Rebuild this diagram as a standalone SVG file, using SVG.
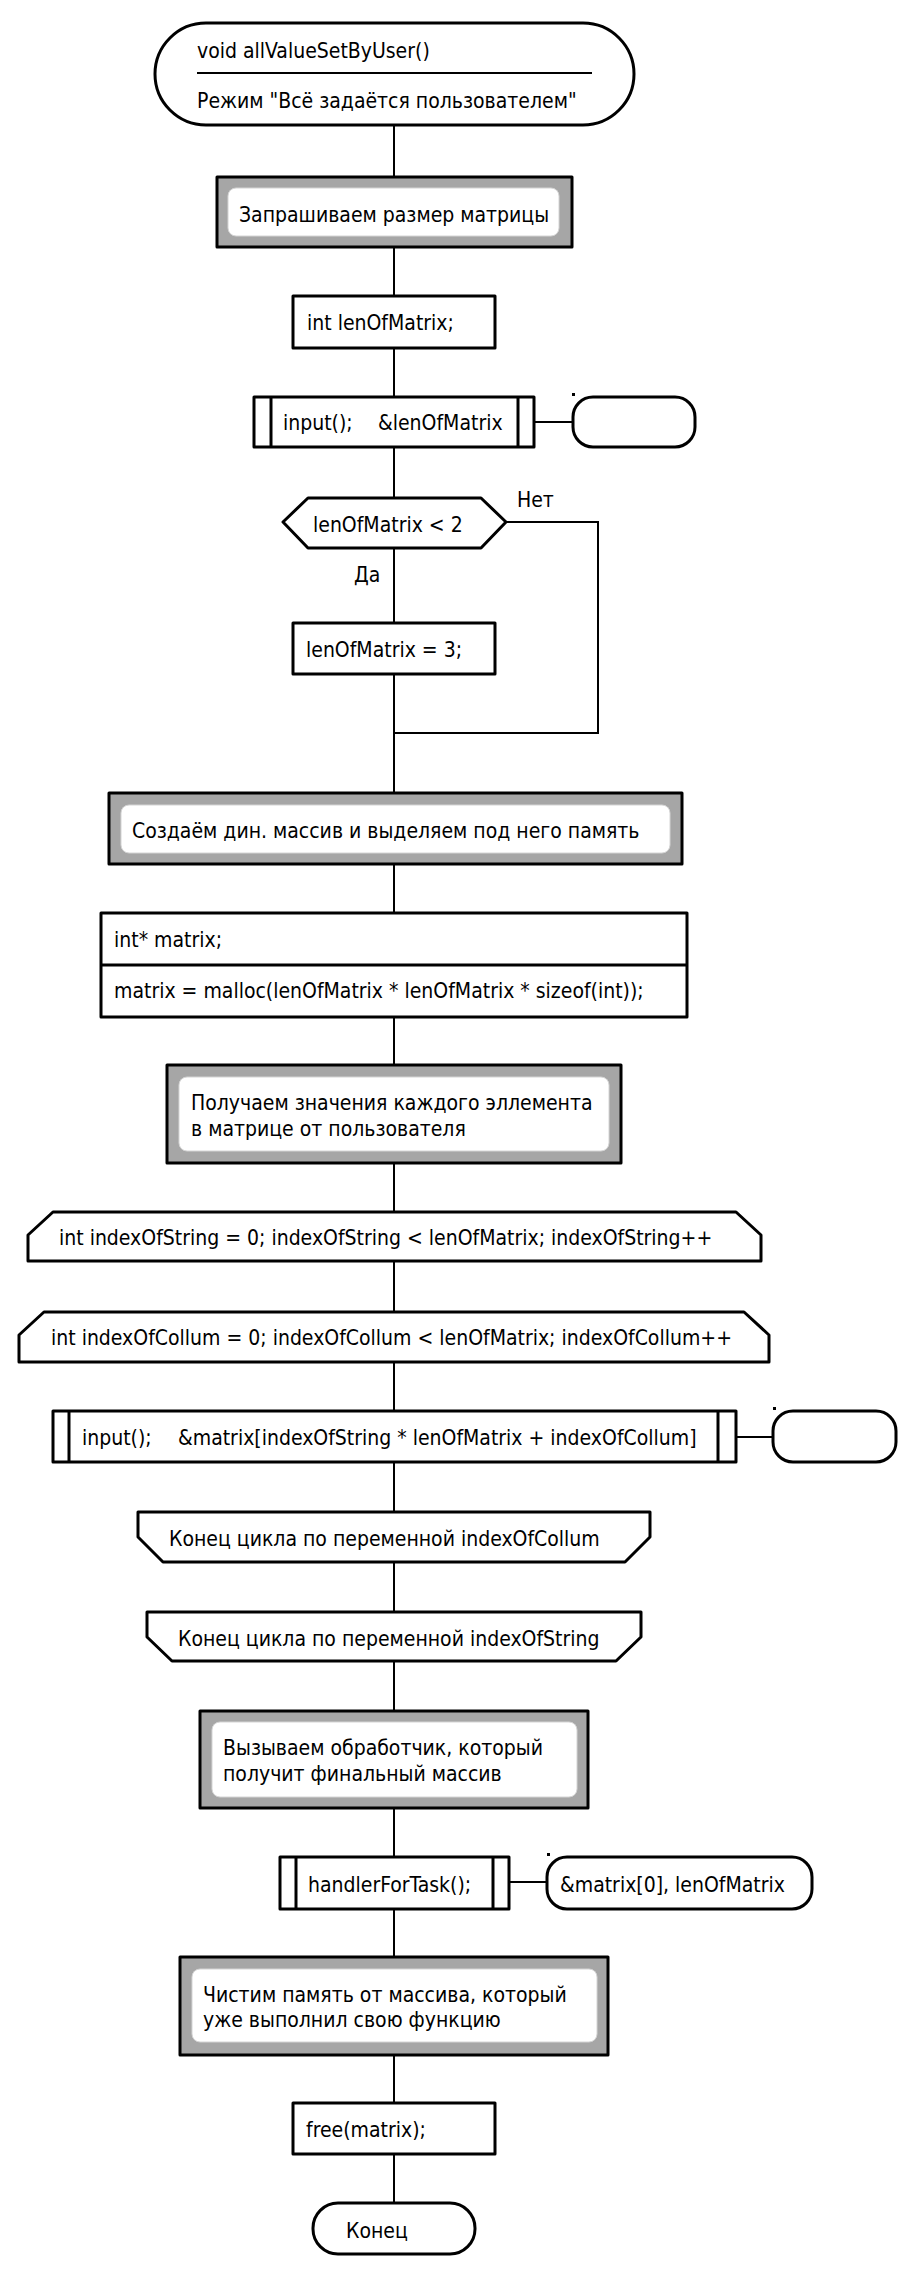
<svg xmlns="http://www.w3.org/2000/svg" width="914" height="2277" viewBox="0 0 914 2277">
<style>
.t{font-family:"DejaVu Sans Condensed","DejaVu Sans",sans-serif;font-stretch:condensed;font-size:21px;fill:#000}
.s{fill:#fff;stroke:#000;stroke-width:3;stroke-linejoin:round}
.g{fill:#a6a6a6;stroke:#000;stroke-width:3;stroke-linejoin:round}
.w{fill:#fff;stroke:#d4d4d4;stroke-width:1}
.c{fill:none;stroke:#000;stroke-width:2}
.d{fill:#000}
</style>
<rect width="914" height="2277" fill="#fff"/>
<g id="connectors">
<path class="c" d="M394 125V177M394 247V296M394 348V397M394 447V498M394 548V623M394 674V793M394 864V913M394 1017V1065M394 1163V1212M394 1261V1312M394 1362V1411M394 1462V1512M394 1562V1612M394 1661V1711M394 1808V1857M394 1909V1957M394 2055V2103M394 2154V2203"/>
<path class="c" d="M506 522H598V733H394"/>
<path class="c" d="M534 422H573M736 1437H773M509 1882H547"/>
<text class="t" x="517" y="507">Нет</text>
<text class="t" x="354" y="582">Да</text>
</g>
<g id="start">
<rect class="s" x="155" y="23" width="479" height="102" rx="51"/>
<line x1="197" y1="73" x2="592" y2="73" stroke="#000" stroke-width="2"/>
<text class="t" x="197" y="58">void allValueSetByUser()</text>
<text class="t" x="197" y="108">Режим "Всё задаётся пользователем"</text>
</g>
<g id="comment1">
<rect class="g" x="217" y="177" width="355" height="70"/>
<rect class="w" x="228" y="188" width="331" height="48" rx="8"/>
<text class="t" x="239" y="222">Запрашиваем размер матрицы</text>
</g>
<g id="declLen">
<rect class="s" x="293" y="296" width="202" height="52"/>
<text class="t" x="307" y="330">int lenOfMatrix;</text>
</g>
<g id="inputLen">
<rect class="s" x="254" y="397" width="280" height="50"/>
<line x1="271" y1="397" x2="271" y2="447" stroke="#000" stroke-width="3"/>
<line x1="518" y1="397" x2="518" y2="447" stroke="#000" stroke-width="3"/>
<text class="t" y="430"><tspan x="283">input();</tspan><tspan x="378">&amp;lenOfMatrix</tspan></text>
</g>
<g id="portLen">
<rect class="s" x="573" y="397" width="122" height="50" rx="20"/>
<rect class="d" x="572" y="393" width="3" height="3"/>
</g>
<g id="ifLen">
<polygon class="s" points="283,522 308,498 481,498 506,522 481,548 308,548"/>
<text class="t" x="313" y="532">lenOfMatrix &lt; 2</text>
</g>
<g id="setLen">
<rect class="s" x="293" y="623" width="202" height="51"/>
<text class="t" x="306" y="657">lenOfMatrix = 3;</text>
</g>
<g id="comment2">
<rect class="g" x="109" y="793" width="573" height="71"/>
<rect class="w" x="121" y="805" width="549" height="48" rx="8"/>
<text class="t" x="132" y="838">Создаём дин. массив и выделяем под него память</text>
</g>
<g id="alloc">
<rect class="s" x="101" y="913" width="586" height="104"/>
<line x1="101" y1="965" x2="687" y2="965" stroke="#000" stroke-width="3"/>
<text class="t" x="114" y="947">int* matrix;</text>
<text class="t" x="114" y="998">matrix = malloc(lenOfMatrix * lenOfMatrix * sizeof(int));</text>
</g>
<g id="comment3">
<rect class="g" x="167" y="1065" width="454" height="98"/>
<rect class="w" x="179" y="1077" width="430" height="74" rx="8"/>
<text class="t" x="191" y="1110">Получаем значения каждого эллемента</text>
<text class="t" x="191" y="1136">в матрице от пользователя</text>
</g>
<g id="loopString">
<polygon class="s" points="28,1235 53,1212 736,1212 761,1235 761,1261 28,1261"/>
<text class="t" x="59" y="1245">int indexOfString = 0; indexOfString &lt; lenOfMatrix; indexOfString++</text>
</g>
<g id="loopCollum">
<polygon class="s" points="19,1335 44,1312 744,1312 769,1335 769,1362 19,1362"/>
<text class="t" x="51" y="1345">int indexOfCollum = 0; indexOfCollum &lt; lenOfMatrix; indexOfCollum++</text>
</g>
<g id="inputMatrix">
<rect class="s" x="53" y="1411" width="683" height="51"/>
<line x1="69" y1="1411" x2="69" y2="1462" stroke="#000" stroke-width="3"/>
<line x1="718" y1="1411" x2="718" y2="1462" stroke="#000" stroke-width="3"/>
<text class="t" y="1445"><tspan x="82">input();</tspan><tspan x="178">&amp;matrix[indexOfString * lenOfMatrix + indexOfCollum]</tspan></text>
</g>
<g id="portMatrix">
<rect class="s" x="773" y="1411" width="123" height="51" rx="20"/>
<rect class="d" x="773" y="1407" width="3" height="3"/>
</g>
<g id="endCollum">
<polygon class="s" points="138,1512 650,1512 650,1537 625,1562 163,1562 138,1537"/>
<text class="t" x="169" y="1546">Конец цикла по переменной indexOfCollum</text>
</g>
<g id="endString">
<polygon class="s" points="147,1612 641,1612 641,1637 616,1661 172,1661 147,1637"/>
<text class="t" x="178" y="1646">Конец цикла по переменной indexOfString</text>
</g>
<g id="comment4">
<rect class="g" x="200" y="1711" width="388" height="97"/>
<rect class="w" x="212" y="1722" width="365" height="75" rx="8"/>
<text class="t" x="223" y="1755">Вызываем обработчик, который</text>
<text class="t" x="223" y="1781">получит финальный массив</text>
</g>
<g id="handler">
<rect class="s" x="280" y="1857" width="229" height="52"/>
<line x1="296" y1="1857" x2="296" y2="1909" stroke="#000" stroke-width="3"/>
<line x1="493" y1="1857" x2="493" y2="1909" stroke="#000" stroke-width="3"/>
<text class="t" x="308" y="1892">handlerForTask();</text>
</g>
<g id="portHandler">
<rect class="s" x="547" y="1857" width="265" height="52" rx="20"/>
<rect class="d" x="547" y="1853" width="3" height="3"/>
<text class="t" x="560" y="1892">&amp;matrix[0], lenOfMatrix</text>
</g>
<g id="comment5">
<rect class="g" x="180" y="1957" width="428" height="98"/>
<rect class="w" x="192" y="1969" width="405" height="73" rx="8"/>
<text class="t" x="203" y="2002">Чистим память от массива, который</text>
<text class="t" x="203" y="2027">уже выполнил свою функцию</text>
</g>
<g id="freeMatrix">
<rect class="s" x="293" y="2103" width="202" height="51"/>
<text class="t" x="306" y="2137">free(matrix);</text>
</g>
<g id="end">
<rect class="s" x="313" y="2203" width="162" height="51" rx="25"/>
<text class="t" x="346" y="2238">Конец</text>
</g>
</svg>
